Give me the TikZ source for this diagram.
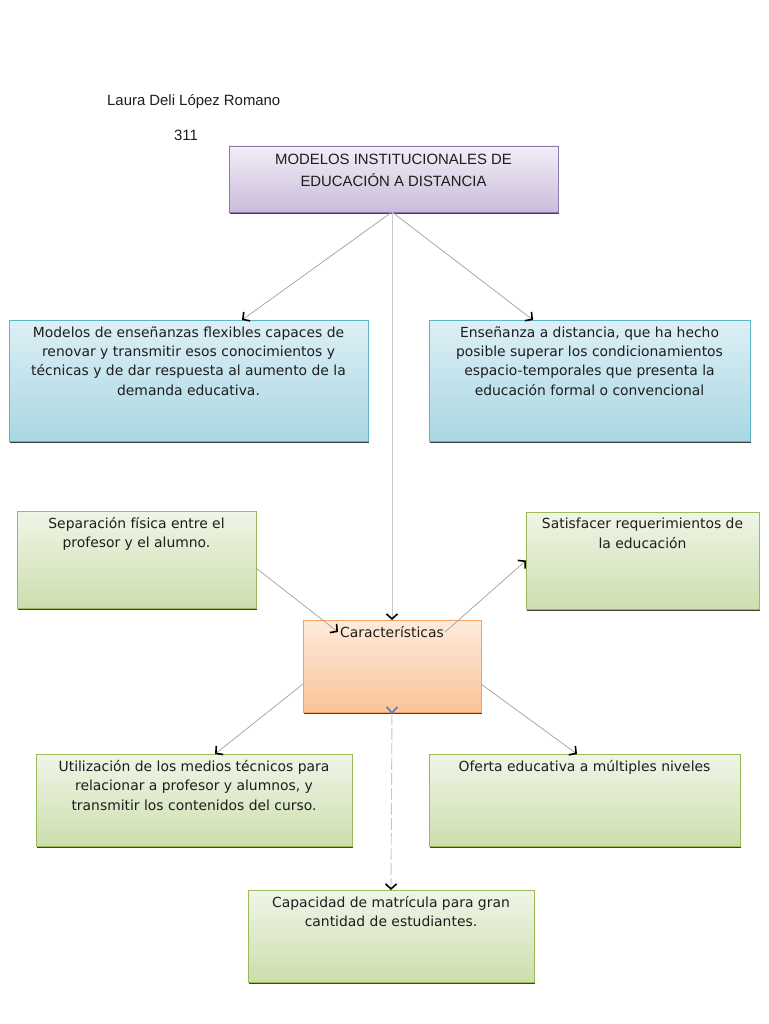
\documentclass[tikz,border=0pt]{standalone}
\usepackage{fontspec}
\setmainfont{DejaVu Sans}
\newfontfamily\arialf{Liberation Sans}
\usetikzlibrary{arrows.meta,shadows}
\definecolor{purpleB}{HTML}{8E78AC}
\definecolor{purpleT}{HTML}{F2EDF6}
\definecolor{purpleD}{HTML}{CABCDA}
\definecolor{blueB}{HTML}{5DB3C8}
\definecolor{blueT}{HTML}{DDEFF5}
\definecolor{blueD}{HTML}{A9D7E3}
\definecolor{greenB}{HTML}{9BBB59}
\definecolor{greenT}{HTML}{F0F5E7}
\definecolor{greenD}{HTML}{CCDEAE}
\definecolor{orangeB}{HTML}{F2A264}
\definecolor{orangeT}{HTML}{FDEBDD}
\definecolor{orangeD}{HTML}{FBC397}
\definecolor{textC}{HTML}{1E1E1E}
\definecolor{lineC}{HTML}{A0A0A0}
\definecolor{lineL}{HTML}{C8C8C8}
\definecolor{tickC}{HTML}{4F81BD}
\begin{document}
\begin{tikzpicture}[x=1pt,y=-1pt,
  box/.style={draw, line width=0.8pt, inner sep=0pt, outer sep=0pt,
    drop shadow={shadow xshift=1pt,shadow yshift=-1.6pt,fill=black!75,opacity=1}},
  purplebox/.style={box, draw=purpleB, top color=purpleT, bottom color=purpleD},
  bluebox/.style={box, draw=blueB, top color=blueT, bottom color=blueD},
  greenbox/.style={box, draw=greenB, top color=greenT, bottom color=greenD},
  orangebox/.style={box, draw=orangeB, top color=orangeT, bottom color=orangeD},
  txt/.style={font=\fontsize{13.9}{19.4}\selectfont, text=textC, align=center, inner sep=0pt, anchor=north},
  ttl/.style={font=\arialf\fontsize{14.9}{21.5}\selectfont, text=textC, align=center, inner sep=0pt, anchor=north},
  conn/.style={draw=lineC, line width=0.7pt, -{Straight Barb[length=5pt,width=11pt,line width=1.6pt,color=black]}},
  connlight/.style={draw=lineL, line width=0.8pt, -{Straight Barb[length=5pt,width=11pt,line width=1.6pt,color=black]}},
  dashconn/.style={draw=lineL, line width=0.9pt, dash pattern=on 12pt off 3pt,
    {Straight Barb[reversed,length=6pt,width=11pt,line width=1.6pt,color=tickC]}-{Straight Barb[length=5pt,width=11pt,line width=1.6pt,color=black]}}
]
\useasboundingbox (0,0) rectangle (768,1024);
\fill[white] (0,0) rectangle (768,1024);

\node[font=\arialf\fontsize{14.9}{18}\selectfont, text=textC, anchor=base west, inner sep=0pt] (author) at (107,106) {Laura Deli López Romano};
\node[font=\arialf\fontsize{14.9}{18}\selectfont, text=textC, anchor=base west, inner sep=0pt] (group) at (174,141) {311};

% boxes
\node[purplebox, minimum width=329pt, minimum height=66pt] (title) at (393.5,179) {};
\node[bluebox, minimum width=359pt, minimum height=121pt] (blueL) at (188.5,380.5) {};
\node[bluebox, minimum width=321pt, minimum height=121pt] (blueR) at (589.5,380.5) {};
\node[greenbox, minimum width=239pt, minimum height=97pt] (sep) at (136.5,559.5) {};
\node[greenbox, minimum width=233pt, minimum height=97pt] (sat) at (642.5,560.5) {};
\node[orangebox, minimum width=178pt, minimum height=92pt] (char) at (392,666) {};
\node[greenbox, minimum width=316pt, minimum height=92pt] (util) at (194,800) {};
\node[greenbox, minimum width=311pt, minimum height=92pt] (ofer) at (584.5,800) {};
\node[greenbox, minimum width=286pt, minimum height=92pt] (cap) at (391,936) {};

% texts
\node[ttl] (titletxt) at ([yshift=-8pt]title.north) {MODELOS INSTITUCIONALES DE\\EDUCACIÓN A DISTANCIA};
\node[txt] (blueLtxt) at ([yshift=-6pt]blueL.north) {Modelos de enseñanzas flexibles capaces de\\renovar y transmitir esos conocimientos y\\técnicas y de dar respuesta al aumento de la\\demanda educativa.};
\node[txt] (blueRtxt) at ([yshift=-6pt]blueR.north) {Enseñanza a distancia, que ha hecho\\posible superar los condicionamientos\\espacio-temporales que presenta la\\educación formal o convencional};
\node[txt] (septxt) at ([yshift=-6pt]sep.north) {Separación física entre el\\profesor y el alumno.};
\node[txt] (sattxt) at ([yshift=-6pt]sat.north) {Satisfacer requerimientos de\\la educación};
\node[txt] (chartxt) at ([yshift=-6pt]char.north) {Características};
\node[txt] (utiltxt) at ([yshift=-6pt]util.north) {Utilización de los medios técnicos para\\relacionar a profesor y alumnos, y\\transmitir los contenidos del curso.};
\node[txt] (ofertxt) at ([yshift=-6pt]ofer.north) {Oferta educativa a múltiples niveles};
\node[txt] (captxt) at ([yshift=-6pt]cap.north) {Capacidad de matrícula para gran\\cantidad de estudiantes.};

% connectors
\draw[conn] ([xshift=-1.5pt]title.south) -- ([xshift=53.5pt]blueL.north);
\draw[conn] ([xshift=-1.5pt]title.south) -- ([xshift=-56.5pt]blueR.north);
\draw[connlight] ([xshift=-1.5pt]title.south) -- (char.north);
\draw[conn] ([yshift=-8.5pt]sep.east) -- ([xshift=35pt,yshift=-12pt]char.north west);
\draw[conn] ([xshift=-36pt,yshift=-12pt]char.north east) -- (sat.west);
\draw[conn] ([yshift=-18pt]char.west) -- ([xshift=21pt]util.north);
\draw[conn] ([yshift=-18pt]char.east) -- ([xshift=-7.5pt]ofer.north);
\draw[dashconn] ([yshift=6pt]char.south) -- (cap.north);
\end{tikzpicture}
\end{document}
